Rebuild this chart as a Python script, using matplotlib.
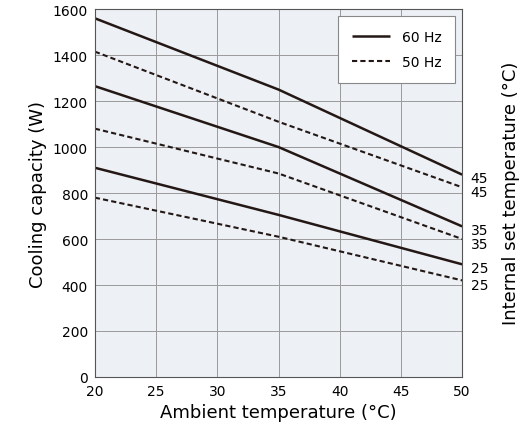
import matplotlib.pyplot as plt

ambient = [20, 35, 50]
set_temps = ["45", "35", "25"]
cap_60hz = {"45": [1560, 1250, 880], "35": [1265, 1000, 655], "25": [910, 705, 490]}
cap_50hz = {"45": [1415, 1110, 825], "35": [1080, 885, 600], "25": [780, 610, 420]}

fig = plt.figure(figsize=(5.3, 4.39), dpi=100)
ax = fig.add_axes([0.179, 0.139, 0.693, 0.838])
ax.set_facecolor("#edf0f4")

for t in set_temps:
    ax.plot(ambient, cap_60hz[t], color="#231815", lw=1.8, solid_capstyle="butt",
            label="60 Hz" if t == "45" else None)
    ax.plot(ambient, cap_50hz[t], color="#231815", lw=1.5, ls=(0, (2.5, 1.5)),
            label="50 Hz" if t == "45" else None)
    ax.text(50.7, cap_60hz[t][-1] - 15, t, va="center", fontsize=10)
    ax.text(50.7, cap_50hz[t][-1] - 20, t, va="center", fontsize=10)

ax.set_xlim(20, 50)
ax.set_ylim(0, 1600)
ax.set_xticks(range(20, 51, 5))
ax.set_yticks(range(0, 1601, 200))
ax.grid(color="#9a9a9a", lw=0.7)
ax.tick_params(labelsize=10, length=0, pad=5)
for s in ax.spines.values():
    s.set_color("#555555")
    s.set_linewidth(0.8)
ax.set_xlabel("Ambient temperature (°C)", fontsize=13)
ax.set_ylabel("Cooling capacity (W)", fontsize=13)
fig.text(0.965, 0.56, "Internal set temperature (°C)", rotation=90, va="center", ha="center", fontsize=13)

leg = ax.legend(loc="upper right", fontsize=10, frameon=True, fancybox=False,
                edgecolor="#888888", framealpha=1, borderpad=1.0, handlelength=2.8, labelspacing=0.8)
leg.get_frame().set_linewidth(0.8)

fig.savefig("out.png", dpi=100)
